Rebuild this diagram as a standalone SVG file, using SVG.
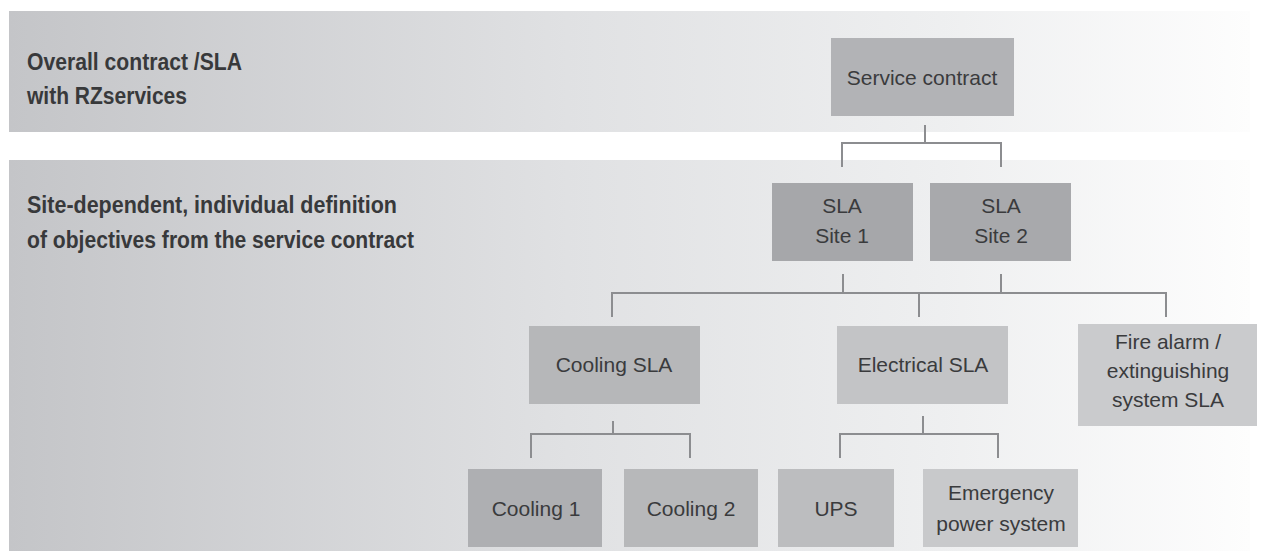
<svg xmlns="http://www.w3.org/2000/svg" width="1262" height="551" viewBox="0 0 1262 551">
<defs>
<linearGradient id="band" x1="0" y1="0" x2="1" y2="0">
<stop offset="0" stop-color="#c4c5c8"/>
<stop offset="0.45" stop-color="#e0e1e3"/>
<stop offset="0.75" stop-color="#eeeff0"/>
<stop offset="1" stop-color="#fdfdfd"/>
</linearGradient>
<style>
.hdr{font-family:"Liberation Sans",Arial,sans-serif;font-weight:bold;font-size:23px;fill:#38393b}
.lbl{font-family:"Liberation Sans",Arial,sans-serif;font-size:21px;fill:#3a3b3d;text-anchor:middle}
.con{fill:none;stroke:#8c8d90;stroke-width:2}
</style>
</defs>
<rect width="1262" height="551" fill="#ffffff"/>
<g id="bands">
<rect x="9" y="11" width="1241" height="121" fill="url(#band)"/>
<rect x="9" y="160" width="1241" height="391" fill="url(#band)"/>
<text class="hdr" x="27" y="70" textLength="215" lengthAdjust="spacingAndGlyphs">Overall contract /SLA</text>
<text class="hdr" x="27" y="104" textLength="160" lengthAdjust="spacingAndGlyphs">with RZservices</text>
<text class="hdr" x="27" y="213" textLength="370" lengthAdjust="spacingAndGlyphs">Site-dependent, individual definition</text>
<text class="hdr" x="27" y="248" textLength="387" lengthAdjust="spacingAndGlyphs">of objectives from the service contract</text>
</g>
<g id="connectors">
<path class="con" d="M925,125 V143 M842,167 V143 H1001 V167"/>
<path class="con" d="M843,274 V293 M1001,274 V293 M612,317 V293 H1166 V317 M919,293 V317"/>
<path class="con" d="M613,421 V434 M531,458 V434 H690 V458"/>
<path class="con" d="M923,416 V434 M840,458 V434 H998 V458"/>
</g>
<g id="service-contract">
<rect x="831" y="38" width="183" height="78" fill="#b2b3b6"/>
<text class="lbl" x="922" y="85">Service contract</text>
</g>
<g id="sla-site-1">
<rect x="772" y="183" width="141" height="78" fill="#a6a7aa"/>
<text class="lbl" x="842" y="213">SLA</text>
<text class="lbl" x="842" y="243">Site 1</text>
</g>
<g id="sla-site-2">
<rect x="930" y="183" width="141" height="78" fill="#a8a9ac"/>
<text class="lbl" x="1001" y="213">SLA</text>
<text class="lbl" x="1001" y="243">Site 2</text>
</g>
<g id="cooling-sla">
<rect x="529" y="326" width="171" height="78" fill="#b6b7b9"/>
<text class="lbl" x="614" y="372">Cooling SLA</text>
</g>
<g id="electrical-sla">
<rect x="837" y="326" width="171" height="78" fill="#c3c4c6"/>
<text class="lbl" x="923" y="372">Electrical SLA</text>
</g>
<g id="fire-alarm-sla">
<rect x="1078" y="324" width="179" height="102" fill="#cacbcd"/>
<text class="lbl" x="1168" y="349">Fire alarm /</text>
<text class="lbl" x="1168" y="378">extinguishing</text>
<text class="lbl" x="1168" y="407">system SLA</text>
</g>
<g id="cooling-1">
<rect x="468" y="469" width="134" height="78" fill="#aeafb2"/>
<text class="lbl" x="536" y="516">Cooling 1</text>
</g>
<g id="cooling-2">
<rect x="624" y="469" width="134" height="78" fill="#b7b8ba"/>
<text class="lbl" x="691" y="516">Cooling 2</text>
</g>
<g id="ups">
<rect x="778" y="469" width="116" height="78" fill="#bcbdbf"/>
<text class="lbl" x="836" y="516">UPS</text>
</g>
<g id="emergency-power">
<rect x="923" y="469" width="155" height="78" fill="#c8c9cb"/>
<text class="lbl" x="1001" y="500">Emergency</text>
<text class="lbl" x="1001" y="531">power system</text>
</g>
</svg>
